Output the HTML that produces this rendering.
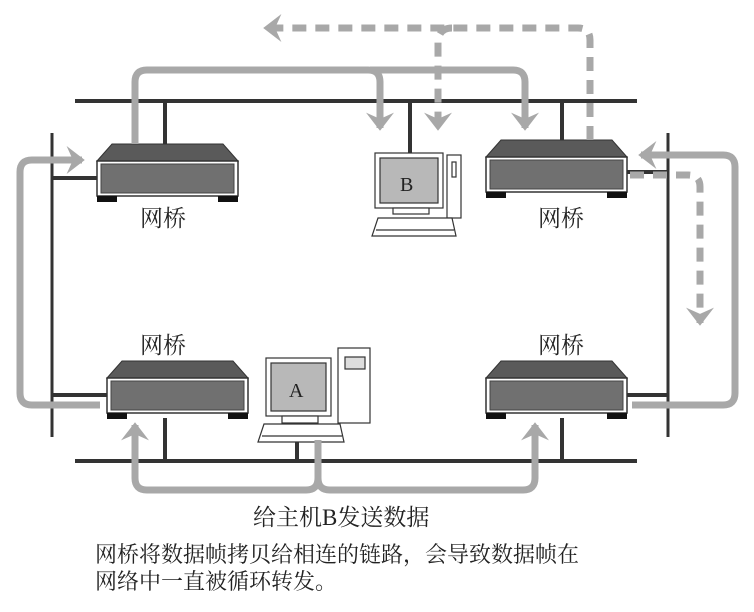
<!DOCTYPE html>
<html><head><meta charset="utf-8"><style>
body{margin:0;background:#fff;width:754px;height:612px;overflow:hidden}
svg{display:block}
text{font-family:"Liberation Serif","Noto Serif CJK SC",serif;fill:#222}
</style></head><body>
<svg width="754" height="612" viewBox="0 0 754 612">
<defs>
<marker id="ah" markerWidth="4" markerHeight="4" refX="2.2" refY="2" orient="auto" markerUnits="strokeWidth">
<path d="M0,0 L2.6,2 L0,4 L0.9,2 Z" fill="#a8a8a8"/></marker>
<g id="br">
<path d="M0,17 L15,0 L126,0 L141,17 Z" fill="#5a5a5a" stroke="#333" stroke-width="1"/>
<rect x="0" y="17" width="141" height="35" fill="#fff" stroke="#333" stroke-width="1.5"/>
<rect x="4" y="20" width="133" height="29" fill="#707070" stroke="#444"/>
<rect x="0" y="52" width="20" height="6" fill="#111"/>
<rect x="121" y="52" width="20" height="6" fill="#111"/>
</g>
</defs>
<g stroke="#333" stroke-width="4" fill="none">
<line x1="75" y1="101" x2="637" y2="101"/>
<line x1="75" y1="461" x2="637" y2="461"/>
<line x1="52" y1="133" x2="52" y2="437" stroke-width="3"/>
<line x1="668" y1="133" x2="668" y2="437" stroke-width="3"/>
<line x1="165" y1="101" x2="165" y2="146"/>
<line x1="562" y1="101" x2="562" y2="141"/>
<line x1="410" y1="101" x2="410" y2="153"/>
<line x1="52" y1="178" x2="97" y2="178"/>
<line x1="627" y1="172" x2="668" y2="172"/>
<line x1="165" y1="418" x2="165" y2="461"/>
<line x1="562" y1="418" x2="562" y2="461"/>
<line x1="52" y1="395" x2="107" y2="395"/>
<line x1="627" y1="395" x2="668" y2="395"/>
<line x1="297" y1="440" x2="297" y2="461"/>
</g>
<use href="#br" x="97" y="144"/>
<use href="#br" x="486" y="140"/>
<use href="#br" x="107" y="361"/>
<use href="#br" x="486" y="361"/>
<!-- computer B -->
<g stroke="#333" stroke-width="1.2">
<rect x="375" y="153" width="68" height="55" fill="#fff"/>
<rect x="380" y="158" width="58" height="45" fill="#b8b8b8"/>
<rect x="393" y="208" width="36" height="6" fill="#fff"/>
<rect x="447" y="155" width="14" height="63" fill="#fff"/>
<rect x="452" y="162" width="4" height="15" fill="#fff"/>
<path d="M378,218 L452,218 L456,236 L372,236 Z" fill="#fff"/>
<line x1="376" y1="230" x2="454" y2="230"/>
</g>
<text x="400" y="191" font-size="20">B</text>
<!-- computer A -->
<g stroke="#333" stroke-width="1.2">
<rect x="338" y="348" width="32" height="75" fill="#fff"/>
<rect x="345" y="357" width="20" height="12" fill="#ddd"/>
<rect x="266" y="358" width="65" height="58" fill="#fff"/>
<rect x="271" y="363" width="55" height="48" fill="#b8b8b8"/>
<rect x="282" y="416" width="36" height="7" fill="#fff"/>
<path d="M264,424 L340,424 L344,442 L258,442 Z" fill="#fff"/>
<line x1="262" y1="436" x2="342" y2="436"/>
</g>
<text x="289" y="397" font-size="20">A</text>
<!-- solid arrows -->
<g stroke="#a8a8a8" stroke-width="7" fill="none" stroke-linejoin="round">
<path d="M135,144 V82 Q135,70 147,70 H368 Q380,70 380,82 V128" marker-end="url(#ah)"/>
<path d="M370,70 H513 Q525,70 525,82 V128" marker-end="url(#ah)"/>
<path d="M100,405 H32 Q20,405 20,393 V172 Q20,160 32,160 H82" marker-end="url(#ah)"/>
<path d="M632,405 H723 Q735,405 735,393 V167 Q735,155 723,155 H641" marker-end="url(#ah)"/>
<path d="M318,440 V478 Q318,490 306,490 H147 Q135,490 135,478 V425" marker-end="url(#ah)"/>
<path d="M318,478 Q318,490 330,490 H523 Q535,490 535,478 V425" marker-end="url(#ah)"/>
</g>
<g stroke="#a8a8a8" stroke-width="7" fill="none" stroke-dasharray="14,9">
<path d="M590,140 V40 Q590,28 578,28 H266" marker-end="url(#ah)"/>
<path d="M452,28 Q440,28 438,40 V128" marker-end="url(#ah)"/>
<path d="M630,175 H688 Q700,175 700,187 V323" marker-end="url(#ah)"/>
</g>
<g font-size="23">
<text x="140" y="226">网桥</text>
<text x="538" y="226">网桥</text>
<text x="140" y="353">网桥</text>
<text x="538" y="353">网桥</text>
</g>
<text x="253" y="525" font-size="23">给主机B发送数据</text>
<text x="95" y="562" font-size="22">网桥将数据帧拷贝给相连的链路，会导致数据帧在</text>
<text x="95" y="589" font-size="22">网络中一直被循环转发。</text>
</svg>
</body></html>
